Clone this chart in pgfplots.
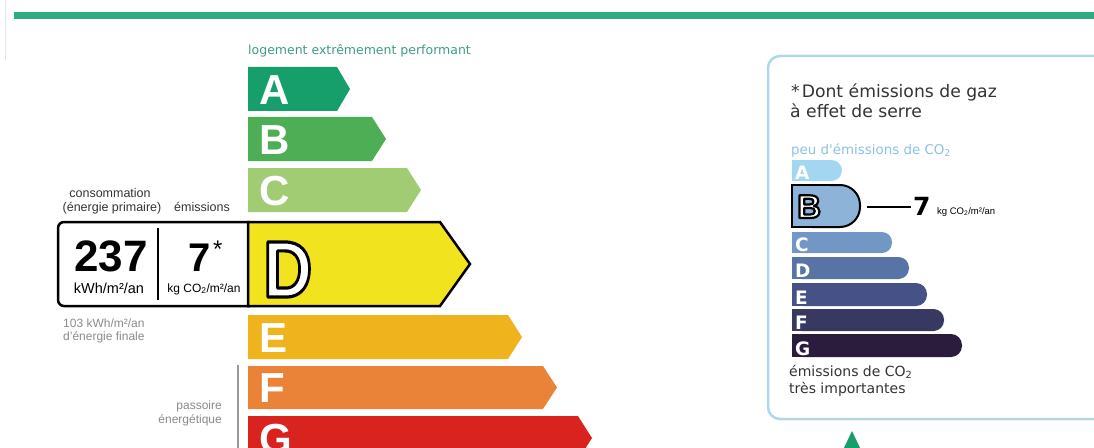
\documentclass[border=0pt]{standalone}
\usepackage{pgfplots}
\pgfplotsset{compat=1.18}
\usepackage{fontspec}
\setmainfont{Liberation Sans}
\newfontfamily\dv{DejaVu Sans}

% energy classes
\definecolor{cA}{HTML}{169E6B}
\definecolor{cB}{HTML}{4DAE55}
\definecolor{cC}{HTML}{A2CC74}
\definecolor{cD}{HTML}{F1E31D}
\definecolor{cE}{HTML}{EFB31E}
\definecolor{cF}{HTML}{EA8338}
\definecolor{cG}{HTML}{D9231F}
% CO2 classes
\definecolor{gA}{HTML}{A3D6F1}
\definecolor{gB}{HTML}{8DB4D8}
\definecolor{gC}{HTML}{7397C4}
\definecolor{gD}{HTML}{5874A6}
\definecolor{gE}{HTML}{465287}
\definecolor{gF}{HTML}{383963}
\definecolor{gG}{HTML}{2B1B3C}
\definecolor{band}{HTML}{2BAD80}
\definecolor{frame}{HTML}{B0D7EE}
\definecolor{teal}{HTML}{3F9B87}
\definecolor{lblue}{HTML}{8CC2E2}
\definecolor{txt}{HTML}{333333}
\definecolor{grey}{HTML}{8A8A8A}

\newcommand{\fs}[1]{\fontsize{#1bp}{#1bp}\selectfont}
% white letter with black outline (fill+stroke text mode)
\newcommand{\outl}[2]{\special{pdf:literal direct 2 Tr #1 w 0 G 1 J 1 j}#2\special{pdf:literal direct 0 Tr}}

\begin{document}
\begin{tikzpicture}[every node/.style={inner sep=0pt},
  elet/.style={anchor=base west, text=white, font=\bfseries\fs{42}},
  glet/.style={anchor=base west, text=white, font=\dv\bfseries\fs{18.5}}]
\useasboundingbox (0,0) rectangle (1094bp,448bp);
\begin{axis}[
  at={(0,0)}, anchor=south west,
  scale only axis, width=1094bp, height=448bp,
  xmin=0, xmax=1094, ymin=0, ymax=448, y dir=reverse,
  hide axis, no markers,
]
% top band
\addplot[fill=band, draw=none] coordinates {(14,12) (1094,12) (1094,19) (14,19)} -- cycle;
\addplot[draw=black!10, line width=1bp] coordinates {(5,0) (5,60)};

% energy arrows: left edge, rect end, tip
\addplot[fill=cA, draw=none] coordinates {(248,67) (337,67) (350,89) (337,111) (248,111)} -- cycle;
\addplot[fill=cB, draw=none] coordinates {(248,117) (372,117) (386,139) (372,161) (248,161)} -- cycle;
\addplot[fill=cC, draw=none] coordinates {(248,168) (407,168) (421,190) (407,212) (248,212)} -- cycle;
\addplot[fill=cE, draw=none] coordinates {(248,315) (508,315) (522,337) (508,359) (248,359)} -- cycle;
\addplot[fill=cF, draw=none] coordinates {(248,366) (543,366) (557,387.5) (543,409) (248,409)} -- cycle;
\addplot[fill=cG, draw=none] coordinates {(248,416) (578,416) (592,438) (578,460) (248,460)} -- cycle;

% value box + D arrow
\addplot[fill=white, draw=black, line width=2.5bp, rounded corners=6bp] coordinates {(250,222) (58,222) (58,306) (250,306)};
\addplot[fill=cD, draw=black, line width=2.5bp, line join=miter] coordinates {(248,222) (440,222) (470,264) (440,306) (248,306)} -- cycle;
\addplot[draw=black, line width=2.5bp] coordinates {(158,228) (158,300)};

% passoire line
\addplot[draw=black!40, line width=2bp] coordinates {(238,365) (238,448)};

% right frame
\addplot[draw=frame, line width=2.5bp, rounded corners=12bp] coordinates {(768,56) (1110,56) (1110,419) (768,419)} -- cycle;

% CO2 bars
\addplot[fill=gA, draw=none, rounded corners=10.5bp] coordinates {(792,160) (842,160) (842,181) (792,181)} -- cycle;
\addplot[fill=gA, draw=none] coordinates {(792,160) (815,160) (815,181) (792,181)} -- cycle;
\addplot[fill=gB, draw=black, line width=2bp, rounded corners=20bp] coordinates {(792,185) (860,185) (860,227) (792,227)} -- cycle;
\addplot[fill=gB, draw=black, line width=2bp] coordinates {(830,185) (792,185) (792,227) (830,227)};
\addplot[fill=gC, draw=none, rounded corners=10bp] coordinates {(792,232) (892,232) (892,253) (792,253)} -- cycle;
\addplot[fill=gC, draw=none] coordinates {(792,232) (815,232) (815,253) (792,253)} -- cycle;
\addplot[fill=gD, draw=none, rounded corners=10.5bp] coordinates {(792,257) (909,257) (909,279) (792,279)} -- cycle;
\addplot[fill=gD, draw=none] coordinates {(792,257) (815,257) (815,279) (792,279)} -- cycle;
\addplot[fill=gE, draw=none, rounded corners=11bp] coordinates {(792,283) (927,283) (927,306) (792,306)} -- cycle;
\addplot[fill=gE, draw=none] coordinates {(792,283) (815,283) (815,306) (792,306)} -- cycle;
\addplot[fill=gF, draw=none, rounded corners=10.5bp] coordinates {(792,309) (944,309) (944,331) (792,331)} -- cycle;
\addplot[fill=gF, draw=none] coordinates {(792,309) (815,309) (815,331) (792,331)} -- cycle;
\addplot[fill=gG, draw=none, rounded corners=11bp] coordinates {(792,334) (962,334) (962,357) (792,357)} -- cycle;
\addplot[fill=gG, draw=none] coordinates {(792,334) (815,334) (815,357) (792,357)} -- cycle;
\addplot[draw=black, line width=1.3bp] coordinates {(867,207) (911,207)};

% green pointer
\addplot[fill=cA, draw=none] coordinates {(852,431) (862,452) (842,452)} -- cycle;

% --- texts, left
\node[anchor=base west, text=teal, font=\dv\fs{12.5}] at (248,55) {logement extrêmement performant};
\node[elet] at (259,104) {A};
\node[elet] at (259,154) {B};
\node[elet] at (259,205) {C};
\node[elet] at (259,352) {E};
\node[elet] at (259,402) {F};
\node[elet] at (259,453) {G};
\node[anchor=base west, text=white, font=\bfseries\fs{80}] at (263,297) {\scalebox{0.85}[1]{\outl{3.2}{D}}};

\node[anchor=base, text=txt, font=\fs{12.5}] at (110,197) {consommation};
\node[anchor=base, text=txt, font=\fs{12.5}] at (112,211) {(énergie primaire)};
\node[anchor=base, text=txt, font=\fs{12.5}] at (202,211) {émissions};
\node[anchor=base, font=\bfseries\fs{44}] at (111,271) {237};
\node[anchor=base, font=\fs{14.5}] at (109,293) {kWh/m²/an};
\node[anchor=base, font=\bfseries\fs{40}] at (200,271) {7};
\node[anchor=base west, font=\fs{24}] at (213,257) {*};
\node[anchor=base, font=\fs{12}] at (204,292) {kg CO\textsubscript{2}/m²/an};
\node[anchor=base west, text=grey, font=\fs{12}] at (63,327) {103 kWh/m²/an};
\node[anchor=base west, text=grey, font=\fs{12}] at (63,340) {d'énergie finale};
\node[anchor=base east, text=grey, font=\fs{12}] at (222,409) {passoire};
\node[anchor=base east, text=grey, font=\fs{12}] at (222,423) {énergétique};

% --- texts, right
\node[anchor=base west, text=txt, font=\dv\fs{17.2}] at (791,97) {*\kern2bp Dont émissions de gaz};
\node[anchor=base west, text=txt, font=\dv\fs{17.2}] at (790,117) {à effet de serre};
\node[anchor=base west, text=lblue, font=\dv\fs{13.4}] at (791,154) {peu d'émissions de CO\textsubscript{2}};
\node[glet] at (795,179) {A};
\node[glet] at (795,251) {C};
\node[glet] at (795,277) {D};
\node[glet] at (795,304) {E};
\node[glet] at (795,329) {F};
\node[glet] at (795,355) {G};
\node[anchor=base west, text=white, font=\bfseries\fs{33}] at (797,218) {\outl{2.2}{B}};
\node[anchor=base west, font=\dv\bfseries\fs{25}] at (913,215) {7};
\node[anchor=base west, font=\fs{9.5}] at (937,214) {kg CO\textsubscript{2}/m²/an};
\node[anchor=base west, text=txt, font=\dv\fs{14}] at (789,376) {émissions de CO\textsubscript{2}};
\node[anchor=base west, text=txt, font=\dv\fs{14}] at (789,393) {très importantes};
\end{axis}
\end{tikzpicture}
\end{document}
